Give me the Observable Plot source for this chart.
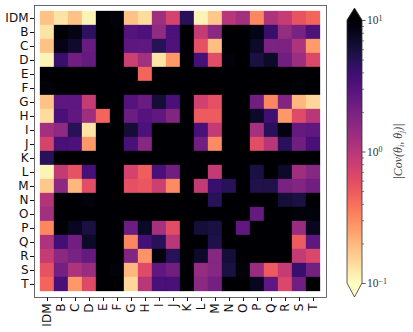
<!DOCTYPE html>
<html><head><meta charset="utf-8">
<script src="https://cdn.jsdelivr.net/npm/d3@7"></script>
<script src="https://cdn.jsdelivr.net/npm/@observablehq/plot@0.6"></script>
<style>
html,body{margin:0;padding:0;background:#fff;}
#wrap{position:relative;width:413px;height:332px;overflow:hidden;background:#fff;}
#wrap svg{position:absolute;top:0;}
</style></head><body><div id="wrap"></div>
<script>
const labels = ["IDM","B","C","D","E","F","G","H","I","J","K","L","M","N","O","P","Q","R","S","T"];
const X = 20; // saturated (above 10^1)
const r_IDM = [0.18, 0.13, 0.18, 0.11, X, 9, 0.18, 0.14, 1.3, 0.72, 4.8, 0.11, 0.17, 1.0, 1.25, 0.32, 1.1, 0.85, 0.55, 0.45];
const r_B   = [0.13, X, 8.5, 4.6, X, X, 3.0, 3.3, 1.5, 3.3, X, 0.88, 1.6, X, X, 8.5, 4.0, 1.45, 2.0, 3.2];
const r_C   = [0.18, 8.5, 6.8, 2.4, X, X, 2.7, 2.6, 4.9, 3.2, X, 0.57, 0.19, X, X, 7.0, 1.9, 1.9, 1.1, 0.26];
const r_D   = [0.11, 4.0, 2.2, 2.5, X, X, 0.78, 1.25, 0.13, 0.27, X, 3.5, 0.6, 9, X, 5.8, 7.0, 2.2, 1.35, 0.64];
const r_E   = [X, X, X, X, X, X, X, 0.45, X, X, X, X, X, X, X, X, X, X, X, X];
const r_F   = [9, X, X, X, X, X, X, X, X, X, X, X, X, X, X, X, X, X, 9, X];
const r_G   = [0.18, 2.7, 2.7, 0.85, X, X, 3.0, 2.4, 6.3, 3.4, X, 0.74, 0.57, X, X, 2.2, 0.32, 1.8, 0.2, 0.145];
const r_H   = [0.14, 3.4, 2.6, 1.3, 0.45, X, 2.3, 3.0, 2.6, 1.8, X, 0.5, 0.5, X, X, 7.0, 3.8, 0.27, 0.62, 1.0];
const r_I   = [1.25, 1.55, 4.9, 0.13, X, X, 6.3, 3.3, X, X, X, 3.4, 0.88, X, X, 1.2, 4.8, 8.7, 2.5, 2.6];
const r_J   = [0.72, 3.4, 3.3, 0.27, X, X, 3.4, 1.7, X, X, X, 2.2, 0.31, X, X, 0.6, 1.0, 4.8, 2.2, 3.4];
const r_K   = [4.8, X, X, X, X, X, X, X, X, X, X, X, X, X, X, X, X, X, X, X];
const r_L   = [0.11, 0.88, 0.56, 3.5, X, X, 0.72, 0.48, 3.4, 2.2, X, X, 0.88, X, X, 5.8, X, 7.0, 1.3, 1.7];
const r_M   = [0.17, 1.6, 0.2, 0.6, X, X, 0.57, 0.52, 0.78, 0.31, X, 0.87, 4.0, 4.9, X, 5.4, 5.4, 2.0, 1.8, 2.2];
const r_N   = [1.05, X, X, 9, X, X, X, X, X, X, X, X, 4.9, X, X, X, X, 6.2, 5.8, X];
const r_O   = [1.25, X, X, X, X, X, X, X, X, X, X, X, X, X, X, 2.5, X, X, 9, 9];
const r_P   = [0.32, 9.5, 7.5, 5.8, X, X, 2.3, 7.2, 1.2, 0.6, X, 6.2, 5.8, X, 2.6, X, X, X, 1.4, 7.5];
const r_Q   = [1.1, 3.7, 2.2, 7.0, X, X, 0.32, 3.6, 4.8, 1.0, X, X, 5.5, X, X, X, X, X, 0.5, 2.6];
const r_R   = [0.85, 1.6, 2.0, 2.5, X, X, 1.8, 0.28, 8.7, 4.8, X, 7.0, 1.7, 6.2, X, X, X, X, 0.87, 0.66];
const r_S   = [0.56, 2.1, 1.1, 1.4, X, 9, 0.2, 0.62, 2.6, 2.2, X, 1.45, 1.7, 5.8, 9, 1.4, 0.5, 0.85, 4.0, 2.1];
const r_T   = [0.44, 3.4, 0.27, 0.63, X, X, 0.145, 1.0, 3.4, 3.4, X, 1.6, 2.1, X, X, 7.5, 2.6, 0.66, 2.2, X];
const rows = [r_IDM, r_B, r_C, r_D, r_E, r_F, r_G, r_H, r_I, r_J, r_K, r_L, r_M, r_N, r_O, r_P, r_Q, r_R, r_S, r_T];

const cbMajor = [0.1, 1, 10];
const cbMajorExp = ["\u22121", "0", "1"];
const cbMinor = [0.2, 0.3, 0.4, 0.5, 0.6, 0.7, 0.8, 0.9, 2, 3, 4, 5, 6, 7, 8, 9];

const cells = [];
rows.forEach((row, i) => row.forEach((v, j) => cells.push({row: labels[i], col: labels[j], value: v})));

const colorOpts = {type: "log", domain: [0.1, 10], scheme: "magma", reverse: true, clamp: true};

const heat = Plot.plot({
  width: 340, height: 332,
  marginLeft: 34, marginRight: 14, marginTop: 5, marginBottom: 35,
  style: {fontFamily: "DejaVu Sans, sans-serif", fontSize: "12px", color: "#111", background: "transparent"},
  x: {domain: labels, padding: 0, label: null, tickRotate: -90, tickSize: 4, tickPadding: 2},
  y: {domain: labels, padding: 0, label: null, tickSize: 4, tickPadding: 2},
  color: colorOpts,
  marks: [
    Plot.cell(cells, {x: "col", y: "row", fill: "value", stroke: "value", strokeWidth: 0.3}),
    Plot.frame({stroke: "#444", strokeWidth: 0.8})
  ]
});
heat.style.left = "0px";
document.getElementById("wrap").appendChild(heat);

const cscale = heat.scale("color");

const cb = Plot.plot({
  width: 83, height: 332,
  marginLeft: 17, marginRight: 51, marginTop: 20, marginBottom: 49,
  style: {fontFamily: "Liberation Serif, serif", fontSize: "11px", color: "#333", background: "transparent"},
  x: {domain: [0, 1], axis: null},
  y: {type: "log", domain: [0.1, 10], axis: null},
  marks: [
    Plot.rect([0], {x1: 0, x2: 1, y1: 0.1, y2: 10, fill: "url(#cbgrad)"}),
    Plot.ruleY(cbMinor, {x1: 1, x2: 1.14, stroke: "#333", strokeWidth: 0.6}),
    Plot.ruleY(cbMajor, {x1: 1, x2: 1.24, stroke: "#333", strokeWidth: 0.8}),
    Plot.text(cbMajor, {x: 1.3, y: d => d, text: () => "10", textAnchor: "start", fill: "#333", fontSize: 11.5, className: "cbtick"})
  ]
});
cb.style.left = "330px";
document.getElementById("wrap").appendChild(cb);

// superscript exponents on the colorbar tick labels
d3.select(cb).selectAll(".cbtick text").each(function(d, i) {
  d3.select(this).append("tspan").attr("dy", "-0.45em").attr("font-size", 8).text(cbMajorExp[i]);
});

// gradient + triangles + outline
const ys = cb.scale("y"), xs = cb.scale("x");
const svg = d3.select(cb);
const defs = svg.insert("defs", ":first-child");
const grad = defs.append("linearGradient").attr("id", "cbgrad").attr("x1", 0).attr("y1", 1).attr("x2", 0).attr("y2", 0);
d3.range(0, 1.0001, 0.02).forEach(t => {
  grad.append("stop").attr("offset", t).attr("stop-color", cscale.apply(Math.pow(10, -1 + 2 * t)));
});
const xl = xs.apply(0), xr = xs.apply(1), xm = (xl + xr) / 2;
const yt = ys.apply(10), yb = ys.apply(0.1);
svg.append("path").attr("d", `M${xl},${yt}L${xm},${yt - 12}L${xr},${yt}Z`).attr("fill", cscale.apply(20));
svg.append("path").attr("d", `M${xl},${yb}L${xm},${yb + 14}L${xr},${yb}Z`).attr("fill", cscale.apply(0.05));
svg.append("path")
  .attr("d", `M${xl},${yt}L${xm},${yt - 12}L${xr},${yt}L${xr},${yb}L${xm},${yb + 14}L${xl},${yb}Z`)
  .attr("fill", "none").attr("stroke", "#333").attr("stroke-width", 0.8);

const lab = svg.append("text")
  .attr("transform", `translate(69,${(yt + yb) / 2}) rotate(-90)`)
  .attr("text-anchor", "middle").attr("dominant-baseline", "middle")
  .attr("font-family", "Liberation Serif, serif").attr("font-style", "italic")
  .attr("font-size", 12).attr("fill", "#444");
lab.append("tspan").text("|Cov(\u03B8");
lab.append("tspan").attr("font-size", 8).attr("dy", 3).text("i");
lab.append("tspan").attr("dy", -3).text(", \u03B8");
lab.append("tspan").attr("font-size", 8).attr("dy", 3).text("j");
lab.append("tspan").attr("dy", -3).text(")|");
</script></body></html>
